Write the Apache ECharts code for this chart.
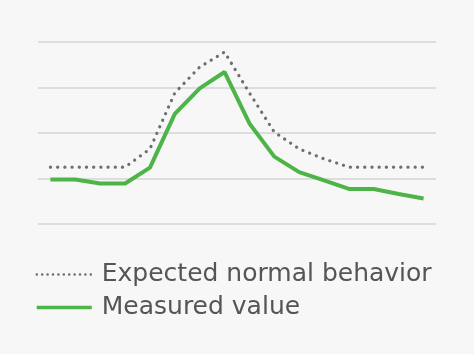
<!DOCTYPE html>
<html>
<head>
<meta charset="utf-8">
<script src="https://cdn.jsdelivr.net/npm/echarts@6/dist/echarts.min.js"></script>
<style>
  html, body { margin: 0; padding: 0; background: #f7f7f7; }
  #chart { width: 474px; height: 354px; }
</style>
</head>
<body>
<div id="chart"></div>
<script>
  // time steps along the x axis (no labels shown)
  var steps = ['t0','t1','t2','t3','t4','t5','t6','t7','t8','t9','t10','t11','t12','t13','t14','t15'];
  var expected = [1.25, 1.25, 1.25, 1.25, 1.65, 2.88, 3.45, 3.78, 2.88, 2.02, 1.65, 1.43, 1.25, 1.25, 1.25, 1.25];
  var measured = [0.98, 0.98, 0.89, 0.89, 1.24, 2.42, 2.98, 3.34, 2.21, 1.48, 1.14, 0.96, 0.77, 0.77, 0.66, 0.56];
  var names = ['Expected normal behavior', 'Measured value'];

  var chart = echarts.init(document.getElementById('chart'));
  chart.setOption({
    backgroundColor: '#f7f7f7',
    animation: false,
    grid: { left: 38, right: 38, top: 42, bottom: 130 },
    xAxis: {
      type: 'category',
      data: steps,
      boundaryGap: true,
      axisLine: { show: false },
      axisTick: { show: false },
      axisLabel: { show: false }
    },
    yAxis: {
      type: 'value',
      min: 0, max: 4, interval: 1,
      axisLabel: { show: false },
      splitLine: { lineStyle: { color: '#dddddd', width: 2 } }
    },
    legend: {
      orient: 'vertical',
      left: 30, top: 257,
      itemWidth: 55, itemHeight: 24, itemGap: 8,
      itemStyle: { opacity: 0 },
      textStyle: { fontFamily: 'DejaVu Sans', fontSize: 25, color: '#555555', padding: [0, 0, 0, 5] },
      data: [
        { name: names[0], lineStyle: { type: [0.1, 5.3], cap: 'round', width: 2.5, color: '#6e6e70' } },
        { name: names[1], lineStyle: { width: 3.5, color: '#4db547' } }
      ]
    },
    series: [
      {
        name: names[0], type: 'line', data: expected, symbol: 'none', z: 2,
        itemStyle: { color: '#6e6e70' },
        lineStyle: { color: '#6e6e70', width: 3.2, type: [0.1, 7.1], cap: 'round' }
      },
      {
        name: names[1], type: 'line', data: measured, symbol: 'none', z: 3,
        itemStyle: { color: '#4db547' },
        lineStyle: { color: '#4db547', width: 4 }
      }
    ]
  });
</script>
</body>
</html>
